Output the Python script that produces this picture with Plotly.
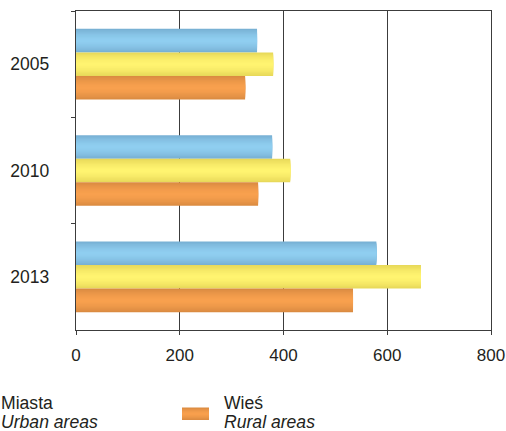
import plotly.graph_objects as go

# Data
years = ["2005", "2010", "2013"]
miasta = [349, 378, 579]      # urban areas (blue)
ogolem = [380, 413, 665]      # total (yellow)
wies = [326, 351, 534]        # rural areas (orange)
x_ticks = [0, 200, 400, 600, 800]

# Styling
FONT = "Liberation Sans, Arial, sans-serif"
W, H = 506, 431
ML, MR, MT, MB = 76, 15, 11, 101
GROUP = 0.665          # share of a category band filled by the three bars
N_LAYERS = 9           # layers used to fake a cylindrical shading
LEGEND_SIZE = 17.6

series = [
    (miasta, (0x76, 0xAE, 0xD1), (0x8F, 0xCE, 0xF0)),
    (ogolem, (0xE6, 0xD6, 0x58), (0xFF, 0xF4, 0x70)),
    (wies,   (0xD8, 0x89, 0x40), (0xF8, 0xA0, 0x4E)),
]


def shade(edge, mid, d):
    """Colour at normalised distance d from the bar centre (0 centre, 1 edge)."""
    t = d ** 1.6
    r, g, b = (round(m + (e - m) * t) for e, m in zip(edge, mid))
    return f"rgb({r},{g},{b})"


fig = go.Figure()
bw = GROUP / 3
for s, (vals, edge, mid) in enumerate(series):
    base_off = -GROUP / 2 + s * bw
    for k in range(N_LAYERS):
        f = 1 - k / N_LAYERS
        d = max(f - 0.5 / N_LAYERS, 0)
        fig.add_trace(go.Bar(
            y=years, x=vals, orientation="h",
            width=bw * f, offset=base_off + bw * (1 - f) / 2,
            marker=dict(color=shade(edge, mid, d), line=dict(width=0)),
            showlegend=False, hoverinfo="skip",
        ))

axis_col = "#3c3c3c"
fig.update_layout(
    width=W, height=H,
    margin=dict(l=ML, r=MR, t=MT, b=MB, pad=0, autoexpand=False),
    paper_bgcolor="white", plot_bgcolor="white",
    barmode="overlay",
    showlegend=False,
    font=dict(family=FONT, size=17, color="#231f20"),
    xaxis=dict(
        range=[0, 800], tickvals=x_ticks, ticktext=[str(v) for v in x_ticks],
        showgrid=True, gridcolor=axis_col, gridwidth=1.4,
        showline=True, linecolor=axis_col, linewidth=1.4, mirror=True,
        ticks="outside", ticklen=4, tickwidth=1.4, tickcolor=axis_col,
        zeroline=False, ticklabelstandoff=5, automargin=False,
        tickfont=dict(size=17),
    ),
    yaxis=dict(
        type="category", categoryorder="array", categoryarray=years,
        autorange="reversed",
        showgrid=False, automargin=False,
        showline=True, linecolor=axis_col, linewidth=1.4, mirror=True,
        ticks="outside", tickson="boundaries", ticklen=4, tickwidth=1.4,
        tickcolor=axis_col, ticklabelstandoff=22,
        tickfont=dict(size=17.5),
    ),
)

# Legend drawn beneath the plot
pw = W - ML - MR
ph = H - MT - MB


def px_x(x):
    return (x - ML) / pw


def px_y(y):
    return (H - MB - y) / ph


legend_items = [
    (3, "Miasta", "Urban areas"),
    (226, "Wieś", "Rural areas"),
]
for x0, pl, en in legend_items:
    fig.add_annotation(x=px_x(x0), y=px_y(402.5), xref="paper", yref="paper",
                       text=pl, showarrow=False, xanchor="left", yanchor="middle",
                       xshift=-3, borderpad=0, font=dict(size=LEGEND_SIZE))
    fig.add_annotation(x=px_x(x0), y=px_y(421.5), xref="paper", yref="paper",
                       text=f"<i>{en}</i>", showarrow=False, xanchor="left",
                       yanchor="middle", xshift=-3, borderpad=0,
                       font=dict(size=LEGEND_SIZE))

# Rural-areas swatch with the same shading as the bars
sw_x0, sw_x1, sw_y0, sw_y1 = 182, 209, 407.5, 420
edge, mid = series[2][1], series[2][2]
for k in range(N_LAYERS):
    f = 1 - k / N_LAYERS
    d = max(f - 0.5 / N_LAYERS, 0)
    half = (sw_y1 - sw_y0) * f / 2
    cy = (sw_y0 + sw_y1) / 2
    fig.add_shape(type="rect", xref="paper", yref="paper",
                  x0=px_x(sw_x0), x1=px_x(sw_x1),
                  y0=px_y(cy - half), y1=px_y(cy + half),
                  line=dict(width=0), fillcolor=shade(edge, mid, d))

fig.write_html("out.html")
